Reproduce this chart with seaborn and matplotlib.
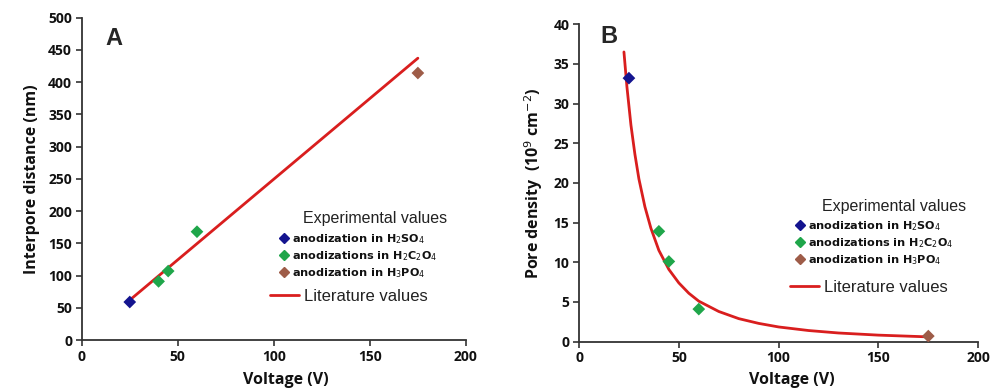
import numpy as np
import pandas as pd
import matplotlib
matplotlib.use("Agg")
import matplotlib.pyplot as plt
import seaborn as sns
from matplotlib.lines import Line2D

sns.set_theme(style="white")
plt.rcParams['font.family'] = ['Open Sans', 'DejaVu Sans']

# ---- Data ----
electrolytes = ["H2SO4", "H2C2O4", "H2C2O4", "H2C2O4", "H3PO4"]
voltage_pts = [25, 40, 45, 60, 175]
interpore_pts = [59, 91, 107, 168, 414]
density_pts = [33.2, 13.9, 10.1, 4.1, 0.7]

lit_voltage_A = [25, 175]
lit_interpore = [62, 437]

lit_voltage_B = [22.5, 24, 26, 28, 30, 33, 36, 40, 45, 50, 55, 60, 70, 80, 90, 100, 115, 130, 150, 175]
lit_density = [36.5, 32.1, 27.3, 23.6, 20.5, 17.0, 14.3, 11.5, 9.1, 7.4, 6.1, 5.1, 3.8, 2.9, 2.3,
               1.85, 1.4, 1.09, 0.82, 0.6]

legend_labels = ["anodization in H$_2$SO$_4$",
                 "anodizations in H$_2$C$_2$O$_4$",
                 "anodization in H$_3$PO$_4$"]
xticks = [0, 50, 100, 150, 200]
yticks_A = [0, 50, 100, 150, 200, 250, 300, 350, 400, 450, 500]
yticks_B = [0, 5, 10, 15, 20, 25, 30, 35, 40]

palette = {"H2SO4": "#14148f", "H2C2O4": "#1fa64a", "H3PO4": "#9e5c48"}
red = "#d91e1e"

df = pd.DataFrame({"V": voltage_pts, "D": interpore_pts, "n": density_pts, "el": electrolytes})
dfA = pd.DataFrame({"V": lit_voltage_A, "D": lit_interpore})
dfB = pd.DataFrame({"V": lit_voltage_B, "n": lit_density})

W, H = 1003, 390
fig = plt.figure(figsize=(W / 100, H / 100), dpi=100)
axA = fig.add_axes([0.0815, 0.128, 0.383, 0.827])
axB = fig.add_axes([0.5773, 0.124, 0.398, 0.814])

spine_col = "#333333"

def style(ax, yticks, ylim, xlab_y):
    ax.set_xlim(0, 200)
    ax.set_ylim(*ylim)
    ax.set_xticks(xticks)
    ax.set_yticks(yticks)
    for s in ["top", "right"]:
        ax.spines[s].set_visible(False)
    for s in ["left", "bottom"]:
        ax.spines[s].set_color(spine_col)
        ax.spines[s].set_linewidth(1.3)
    ax.tick_params(axis="both", direction="out", length=4, width=1.2, color=spine_col,
                   labelsize=10, pad=3, left=True, bottom=True)
    for lab in ax.get_xticklabels() + ax.get_yticklabels():
        lab.set_fontweight("bold")
        lab.set_color("#111111")
    ax.set_xlabel("Voltage (V)", fontsize=11.5, fontweight="bold", color="#111111")
    ax.xaxis.set_label_coords(0.532, xlab_y)

def fx(px):
    return px / W

def fy(py):
    return 1 - py / H

def legend(ax, title_xy, marker_anchor, line_anchor):
    fig.text(fx(title_xy[0]), fy(title_xy[1]), "Experimental values", ha="left", va="center",
             family=["Liberation Sans"], fontsize=11.5, color="#222222")
    handles = [Line2D([], [], marker="D", ls="none", color=palette[k], markersize=5.5)
               for k in ["H2SO4", "H2C2O4", "H3PO4"]]
    leg1 = ax.legend(handles, legend_labels,
                     loc="upper left", bbox_to_anchor=(fx(marker_anchor[0]), fy(marker_anchor[1])),
                     bbox_transform=fig.transFigure,
                     frameon=False, handlelength=0.9, handletextpad=0.3, labelspacing=0.28,
                     borderaxespad=0, borderpad=0,
                     prop={"family": ["DejaVu Sans"], "size": 8.1, "weight": "bold"})
    for t in leg1.get_texts():
        t.set_color("#111111")
    ax.add_artist(leg1)
    leg2 = ax.legend([Line2D([], [], color=red, lw=2)], ["Literature values"],
                     loc="upper left", bbox_to_anchor=(fx(line_anchor[0]), fy(line_anchor[1])),
                     bbox_transform=fig.transFigure,
                     frameon=False, handlelength=1.75, handletextpad=0.3,
                     borderaxespad=0, borderpad=0,
                     prop={"family": ["Liberation Sans"], "size": 12})
    leg2.get_texts()[0].set_color("#222222")

# Panel A
sns.lineplot(data=dfA, x="V", y="D", ax=axA, color=red, lw=2, legend=False)
sns.scatterplot(data=df, x="V", y="D", hue="el", palette=palette, marker="D", s=42,
                edgecolor="none", ax=axA, legend=False, zorder=3)
style(axA, yticks_A, (0, 500), -0.10)
axA.set_ylabel("Interpore distance (nm)", fontsize=11.5, fontweight="bold", labelpad=6, color="#111111")
axA.text(0.062, 0.97, "A", transform=axA.transAxes, fontsize=17, fontweight="bold",
         family=["Liberation Sans"], va="top", ha="left")
legend(axA, (303, 218), (279, 232), (270, 289))

# Panel B
sns.lineplot(data=dfB, x="V", y="n", ax=axB, color=red, lw=2, legend=False)
sns.scatterplot(data=df, x="V", y="n", hue="el", palette=palette, marker="D", s=42,
                edgecolor="none", ax=axB, legend=False, zorder=3)
style(axB, yticks_B, (0, 40), -0.095)
axB.set_ylabel("Pore density  (10$^9$ cm$^{-2}$)", fontsize=11.5, fontweight="bold", labelpad=6,
               color="#111111")
axB.text(0.053, 0.997, "B", transform=axB.transAxes, fontsize=17, fontweight="bold",
         family=["Liberation Sans"], va="top", ha="left")
legend(axB, (822, 206), (795, 219), (790, 280))

fig.savefig("out.png", dpi=100)
